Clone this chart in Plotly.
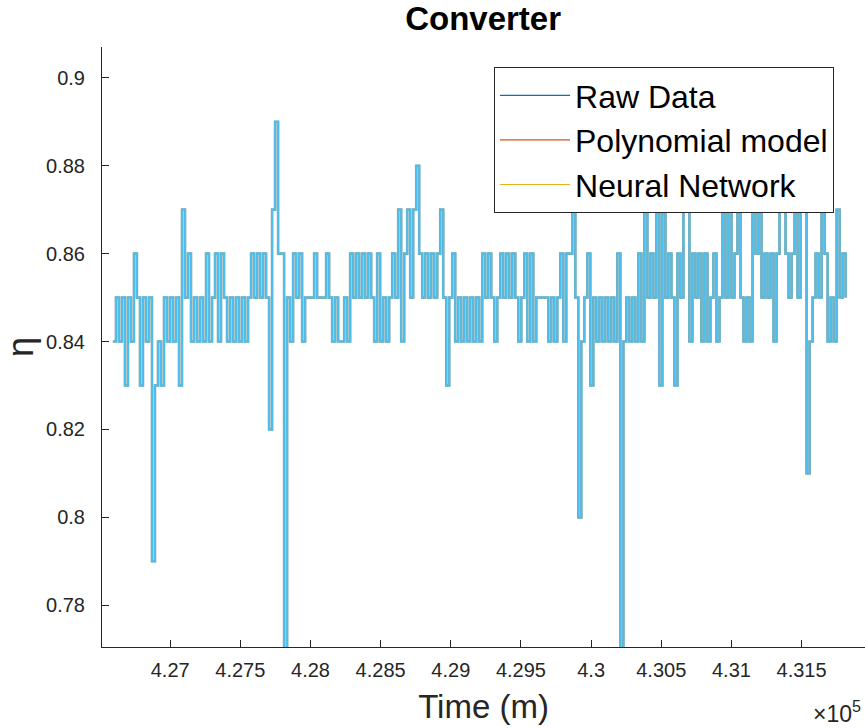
import plotly.graph_objects as go

# ---- data ----
T_START = 426592      # time of first sample (m)
T_STEP = 21.4         # sampling interval (m)

eta = [
    0.84, 0.85, 0.84, 0.85, 0.83, 0.85, 0.84, 0.86, 0.85, 0.83, 0.85, 0.84, 0.85, 0.79, 0.83, 0.84, 0.83, 0.85, 0.84, 0.85,
    0.84, 0.85, 0.83, 0.87, 0.85, 0.86, 0.84, 0.85, 0.84, 0.85, 0.84, 0.86, 0.84, 0.85, 0.86, 0.84, 0.86, 0.85, 0.84, 0.85,
    0.84, 0.85, 0.84, 0.85, 0.84, 0.85, 0.86, 0.85, 0.86, 0.85, 0.86, 0.85, 0.82, 0.87, 0.89, 0.86, 0.86, 0.77, 0.85, 0.84,
    0.86, 0.85, 0.86, 0.84, 0.85, 0.85, 0.85, 0.86, 0.85, 0.85, 0.85, 0.86, 0.85, 0.84, 0.85, 0.84, 0.84, 0.85, 0.84, 0.86,
    0.85, 0.86, 0.85, 0.86, 0.85, 0.86, 0.85, 0.84, 0.86, 0.84, 0.85, 0.84, 0.85, 0.86, 0.85, 0.87, 0.84, 0.86, 0.87, 0.85,
    0.87, 0.88, 0.86, 0.85, 0.86, 0.85, 0.86, 0.85, 0.86, 0.87, 0.85, 0.83, 0.85, 0.86, 0.84, 0.85, 0.84, 0.85, 0.84, 0.85,
    0.84, 0.85, 0.84, 0.86, 0.85, 0.86, 0.85, 0.84, 0.85, 0.86, 0.85, 0.86, 0.85, 0.86, 0.85, 0.84, 0.85, 0.86, 0.84, 0.86,
    0.84, 0.85, 0.85, 0.85, 0.85, 0.84, 0.85, 0.84, 0.85, 0.86, 0.84, 0.86, 0.86, 0.87, 0.85, 0.80, 0.84, 0.85, 0.86, 0.83,
    0.85, 0.84, 0.85, 0.84, 0.85, 0.84, 0.85, 0.84, 0.86, 0.77, 0.84, 0.85, 0.84, 0.85, 0.84, 0.86, 0.84, 0.87, 0.85, 0.86,
    0.85, 0.87, 0.83, 0.87, 0.85, 0.86, 0.85, 0.83, 0.86, 0.85, 0.87, 0.87, 0.84, 0.86, 0.85, 0.86, 0.84, 0.86, 0.84, 0.85,
    0.86, 0.84, 0.85, 0.87, 0.85, 0.87, 0.85, 0.86, 0.87, 0.85, 0.84, 0.85, 0.84, 0.87, 0.86, 0.88, 0.85, 0.86, 0.85, 0.86,
    0.84, 0.86, 0.87, 0.88, 0.86, 0.85, 0.86, 0.87, 0.85, 0.87, 0.88, 0.81, 0.84, 0.85, 0.86, 0.85, 0.87, 0.86, 0.84, 0.85,
    0.84, 0.87, 0.85, 0.86, 0.85,
]
time = [T_START + T_STEP * i for i in range(len(eta))]

series_names = ["Raw Data", "Polynomial model", "Neural Network"]
series_colors = ["#0072BD", "#D95319", "#EDB120"]

x_tickvals = [427000, 427500, 428000, 428500, 429000, 429500, 430000, 430500, 431000, 431500]
x_ticktext = ["4.27", "4.275", "4.28", "4.285", "4.29", "4.295", "4.3", "4.305", "4.31", "4.315"]
y_tickvals = [0.78, 0.80, 0.82, 0.84, 0.86, 0.88, 0.90]
y_ticktext = ["0.78", "0.8", "0.82", "0.84", "0.86", "0.88", "0.9"]

FONT = "Liberation Sans, Arial, sans-serif"
AX = "#262626"

fig = go.Figure()
for name, col in zip(series_names, series_colors):
    fig.add_trace(go.Scatter(x=time, y=eta, mode="lines", name=name,
                             line=dict(color=col, width=1.2, shape="hv")))
# overlapping drawn lines as they appear in the picture
fig.add_trace(go.Scatter(x=time, y=eta, mode="lines", showlegend=False, hoverinfo="skip",
                         line=dict(color="#8AA39C", width=2.6, shape="hv")))
fig.add_trace(go.Scatter(x=time, y=eta, mode="lines", showlegend=False, hoverinfo="skip",
                         line=dict(color="#4DBEEE", width=2.0, shape="hv")))

fig.update_layout(
    width=865, height=728,
    margin=dict(l=102, r=0, t=47, b=81),
    paper_bgcolor="white", plot_bgcolor="white",
    font=dict(family=FONT, color=AX, size=20),
    title=dict(text="<b>Converter</b>", x=0.5585, xanchor="center", y=0.975, yanchor="middle",
               font=dict(family=FONT, size=33, color="black")),
    showlegend=True,
    legend=dict(x=0.5138, y=0.9667, xanchor="left", yanchor="top",
                bgcolor="white", bordercolor="#262626", borderwidth=1,
                font=dict(family=FONT, size=32, color="black"),
                itemwidth=70, tracegroupgap=0),
    xaxis=dict(range=[426514, 431952], tickvals=x_tickvals, ticktext=x_ticktext,
               ticks="inside", ticklen=7, tickcolor=AX, showline=True, linecolor=AX, linewidth=1,
               showgrid=False, zeroline=False, tickfont=dict(size=20), ticklabelstandoff=5,
               title=dict(text="Time (m)", font=dict(size=33), standoff=14)),
    yaxis=dict(range=[0.7705, 0.907], tickvals=y_tickvals, ticktext=y_ticktext,
               ticks="inside", ticklen=7, tickcolor=AX, showline=True, linecolor=AX, linewidth=1,
               showgrid=False, zeroline=False, tickfont=dict(size=20), ticklabelstandoff=12,
               title=dict(text="η", font=dict(size=36), standoff=10)),
    annotations=[dict(text="×10<sup>5</sup>", xref="paper", yref="paper", x=0.998, y=-0.108,
                      xanchor="right", yanchor="middle", showarrow=False,
                      font=dict(size=23, color=AX))],
)

fig.write_html("out.html")
